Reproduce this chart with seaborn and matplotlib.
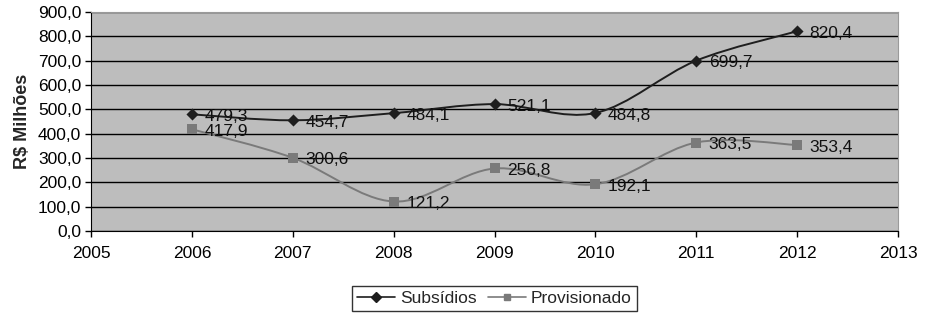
import seaborn as sns
import matplotlib.pyplot as plt
import numpy as np
import pandas as pd
from matplotlib.path import Path
from matplotlib.patches import PathPatch

sns.set_style("white")
plt.rcParams['font.family'] = ['Liberation Sans', 'DejaVu Sans']

years = [2006, 2007, 2008, 2009, 2010, 2011, 2012]
subsidios = [479.3, 454.7, 484.1, 521.1, 484.8, 699.7, 820.4]
provisionado = [417.9, 300.6, 121.2, 256.8, 192.1, 363.5, 353.4]
series_names = ['Subsídios', 'Provisionado']
series_colors = ['#1e1e1e', '#7a7a7a']
series_markers = ['D', 's']


def smooth_path(x, y):
    # Excel-style smoothed line: cubic Bezier segments through the points
    x = np.asarray(x, float)
    y = np.asarray(y, float)
    verts = [(x[0], y[0])]
    codes = [Path.MOVETO]
    n = len(x)
    for i in range(n - 1):
        x0, y0 = (x[i - 1], y[i - 1]) if i > 0 else (x[i], y[i])
        x3, y3 = (x[i + 2], y[i + 2]) if i + 2 < n else (x[i + 1], y[i + 1])
        c1 = (x[i] + (x[i + 1] - x0) / 6, y[i] + (y[i + 1] - y0) / 6)
        c2 = (x[i + 1] - (x3 - x[i]) / 6, y[i + 1] - (y3 - y[i]) / 6)
        verts += [c1, c2, (x[i + 1], y[i + 1])]
        codes += [Path.CURVE4] * 3
    return Path(verts, codes)


df = pd.DataFrame({'Ano': years * 2,
                   'Valor': subsidios + provisionado,
                   'Serie': [series_names[0]] * len(years) + [series_names[1]] * len(years)})

fig = plt.figure(figsize=(9.26, 3.2), dpi=100)
ax = fig.add_axes([0.0983, 0.278, 0.8715, 0.685])
ax.set_facecolor('#bdbdbd')

for name, col, mk in zip(series_names, series_colors, series_markers):
    sub = df[df['Serie'] == name]
    ax.add_patch(PathPatch(smooth_path(sub['Ano'], sub['Valor']), fill=False,
                           edgecolor=col, lw=1.4, zorder=3))
    sns.scatterplot(data=sub, x='Ano', y='Valor', ax=ax, marker=mk, color=col,
                    s=45 if mk == 's' else 38, edgecolor=col, linewidth=0, zorder=4)
    for xv, yv in zip(sub['Ano'], sub['Valor']):
        ax.annotate(f"{yv:.1f}".replace('.', ','), (xv, yv), xytext=(9, -1.5),
                    textcoords='offset points', va='center', ha='left',
                    fontsize=12.5, color='#111111', zorder=5)

ax.set_xlim(2005, 2013)
ax.set_ylim(0, 900)
ax.set_xticks(range(2005, 2014))
ax.set_yticks(np.arange(0, 901, 100))
ax.set_yticklabels([f"{v:.1f}".replace('.', ',') for v in np.arange(0, 901, 100)])
ax.yaxis.grid(True, color='black', lw=1)
ax.set_axisbelow(True)
ax.tick_params(axis='both', direction='out', length=4, width=1, labelsize=12.5,
               bottom=True, left=True, colors='black')
ax.tick_params(axis='x', pad=7)
ax.tick_params(axis='y', pad=3)
ax.set_xlabel('')
ax.set_ylabel('R$ Milhões', fontsize=13, fontweight='bold', labelpad=5)
for side in ['top', 'right']:
    ax.spines[side].set_color('#9a9a9a')
for side in ['left', 'bottom']:
    ax.spines[side].set_color('black')

handles = [plt.Line2D([], [], color=c, marker=m, markersize=5, lw=1.2)
           for c, m in zip(series_colors, series_markers)]
leg = fig.legend(handles, series_names, loc='lower center', bbox_to_anchor=(0.534, 0.0),
                 ncol=2, frameon=True, fancybox=False, fontsize=12.5, handlelength=2.2,
                 columnspacing=0.6, handletextpad=0.3, borderpad=0.3)
leg.get_frame().set_edgecolor('black')
leg.get_frame().set_linewidth(1)

fig.savefig('out.png', dpi=100)
